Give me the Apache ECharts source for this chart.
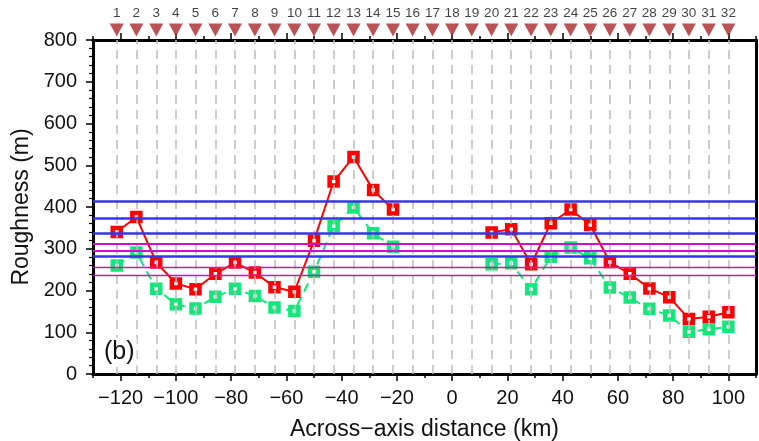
<!DOCTYPE html>
<html><head><meta charset="utf-8">
<script src="https://cdn.jsdelivr.net/npm/echarts@6/dist/echarts.min.js"></script>
<style>html,body{margin:0;padding:0;background:#fff}#c{width:759px;height:441px}</style>
</head><body><div id="c"></div>
<script>
const stationNo = [1,2,3,4,5,6,7,8,9,10,11,12,13,14,15,16,17,18,19,20,21,22,23,24,25,26,27,28,29,30,31,32];
const stationX = [-121.4,-114.3,-107.1,-100,-92.9,-85.7,-78.6,-71.4,-64.3,-57.1,-50,-42.9,-35.7,-28.6,-21.4,-14.3,-7.1,0,7.1,14.3,21.4,28.6,35.7,42.9,50,57.1,64.3,71.4,78.6,85.7,92.9,100];
const redValues = [340,376,267,217,203,240,267,243,208,197,319,461,520,441,394,null,null,null,null,339,347,263,361,394,357,268,240,205,184,132,137,148];
const greenValues = [260,291,204,167,157,185,204,187,159,151,245,354,399,337,305,null,null,null,null,263,265,203,281,303,277,207,183,156,140,101,107,113];
const blueLevels = [414,373,337,283];
const magentaThick = [311,295];
const magentaThin = [255,237];
const xMajorTicks = [-120,-100,-80,-60,-40,-20,0,20,40,60,80,100];
const panelLabel = '(b)';

const FONT = "'Liberation Sans', Arial, Helvetica, sans-serif";
const pairs = vals => stationX.map((x,i)=>[x, vals[i]]);
const fmtMinus = v => String(v).replace('-', '\u2212');

const chart = echarts.init(document.getElementById('c'));
const hl = (vals, color, width) => vals.map(v => ({yAxis: v, lineStyle: {color: color, width: width, type: 'solid'}}));
const frameLine = {show: true, onZero: false, lineStyle: {color: '#000', width: 3}};

chart.setOption({
  animation: false,
  textStyle: {fontFamily: FONT},
  grid: [
    {left: 93, right: 3, top: 40, bottom: 67, containLabel: false, outerBoundsMode: 'none'},
    {left: 93, right: 3, top: 20, height: 20, outerBoundsMode: 'none'}
  ],
  xAxis: [
    {gridIndex: 0, type: 'value', min: -130, max: 110, interval: 10, position: 'bottom',
     axisLine: frameLine,
     axisTick: {show: true, inside: false, length: 4, lineStyle: {color: '#000', width: 1.5}},
     axisLabel: {show: false}, splitLine: {show: false},
     name: 'Across\u2212axis distance (km)', nameLocation: 'middle', nameGap: 44,
     nameTextStyle: {fontSize: 23, color: '#111', fontFamily: FONT}},
    {gridIndex: 0, type: 'value', min: -130, max: 110, position: 'bottom',
     axisLine: {show: false, onZero: false},
     axisTick: {show: true, length: 7, customValues: xMajorTicks, lineStyle: {color: '#000', width: 1.5}},
     axisLabel: {show: true, customValues: xMajorTicks, formatter: fmtMinus, fontSize: 20, color: '#111', margin: 14, fontFamily: FONT},
     splitLine: {show: false}},
    {gridIndex: 0, type: 'value', min: -130, max: 110, interval: 10, position: 'top',
     axisLine: frameLine,
     axisTick: {show: true, length: 4, lineStyle: {color: '#000', width: 1.5}},
     axisLabel: {show: false}, splitLine: {show: false}},
    {gridIndex: 0, type: 'value', min: -130, max: 110, position: 'top',
     axisLine: {show: false, onZero: false},
     axisTick: {show: true, length: 7, customValues: xMajorTicks, lineStyle: {color: '#000', width: 1.5}},
     axisLabel: {show: false}, splitLine: {show: false}},
    {gridIndex: 1, type: 'value', min: -130, max: 110, show: false}
  ],
  yAxis: [
    {gridIndex: 0, type: 'value', min: 0, max: 800, interval: 100, position: 'left',
     axisLine: frameLine,
     axisTick: {show: true, length: 7, lineStyle: {color: '#000', width: 1.5}},
     minorTick: {show: true, splitNumber: 5, length: 4, lineStyle: {color: '#000', width: 1.2}},
     axisLabel: {fontSize: 20, color: '#111', margin: 16, fontFamily: FONT},
     splitLine: {show: false},
     name: 'Roughness (m)', nameLocation: 'middle', nameGap: 58,
     nameTextStyle: {fontSize: 23, color: '#111', fontFamily: FONT}},
    {gridIndex: 0, type: 'value', min: 0, max: 800, position: 'right',
     axisLine: frameLine,
     axisTick: {show: false}, axisLabel: {show: false}, splitLine: {show: false}},
    {gridIndex: 1, type: 'value', min: 0, max: 1, show: false}
  ],
  series: [
    {type: 'line', xAxisIndex: 0, yAxisIndex: 0, data: [], z: 1, silent: true,
     markLine: {silent: true, symbol: 'none', label: {show: false}, animation: false,
       lineStyle: {color: '#bdbdbd', width: 1.5, type: [9, 6]},
       data: stationX.map(x => ({xAxis: x}))}},
    {type: 'line', xAxisIndex: 0, yAxisIndex: 0, data: [], z: 2, silent: true,
     markLine: {silent: true, symbol: 'none', label: {show: false}, animation: false,
       data: [].concat(hl(magentaThick, '#cc11cc', 2.2), hl(magentaThin, '#cc11cc', 1.4), hl(blueLevels, '#3535ee', 2.6))}},
    {name: 'green', type: 'line', xAxisIndex: 0, yAxisIndex: 0, data: pairs(greenValues), z: 3,
     connectNulls: false, symbol: 'rect', symbolSize: 8,
     lineStyle: {color: '#14e67a', width: 2, type: [9, 6]},
     itemStyle: {color: '#ffffff', borderColor: '#14e67a', borderWidth: 4.5}},
    {name: 'red', type: 'line', xAxisIndex: 0, yAxisIndex: 0, data: pairs(redValues), z: 4,
     connectNulls: false, symbol: 'rect', symbolSize: 8,
     lineStyle: {color: '#ff0000', width: 2},
     itemStyle: {color: '#ffffff', borderColor: '#ff0000', borderWidth: 4.5}},
    {name: 'stations', type: 'scatter', xAxisIndex: 4, yAxisIndex: 2, z: 5,
     data: stationX.map((x,i) => ({value: [x, 0.5], name: String(stationNo[i])})),
     symbol: 'path://M0,0 L14,0 L7,13 Z', symbolSize: [14, 13],
     itemStyle: {color: '#a8282a'},
     label: {show: true, position: 'top', distance: 3, formatter: p => p.name, fontSize: 13.5, color: '#111', fontFamily: FONT}}
  ],
  graphic: [
    {type: 'text', left: 102, top: 338, z: 100,
     style: {text: panelLabel, fontSize: 25, fill: '#111', fontFamily: FONT, backgroundColor: '#fff', padding: [2, 2, 2, 2]}}
  ]
});
</script></body></html>
